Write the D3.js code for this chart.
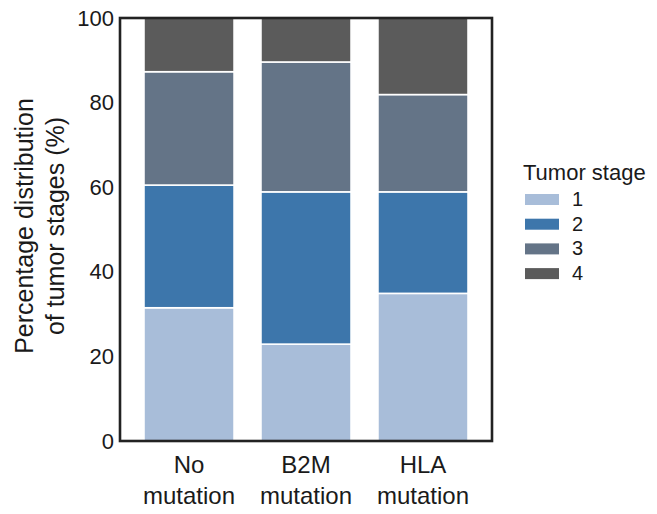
<!DOCTYPE html>
<html>
<head>
<meta charset="utf-8">
<script src="https://cdn.jsdelivr.net/npm/d3@7"></script>
<style>
  html, body { margin: 0; padding: 0; background: #fff; }
  svg { display: block; font-family: "Liberation Sans", Arial, Helvetica, sans-serif; }
</style>
</head>
<body>
<svg id="chart" width="657" height="514"></svg>
<script>
// Tumor stage distribution per mutation group (percent, stacked to 100)
const categories = ["No mutation", "B2M mutation", "HLA mutation"];
const stages = ["1", "2", "3", "4"];
const stage1 = [31.5, 22.9, 34.9];
const stage2 = [29.0, 36.0, 24.0];
const stage3 = [26.8, 30.7, 23.0];
const stage4 = [12.7, 10.4, 18.1];
const yTicks = [0, 20, 40, 60, 80, 100];
const stageColors = ["#a8bdd9", "#3d76ab", "#647487", "#5b5b5b"];

const rows = categories.map((c, i) => ({
  category: c,
  "1": stage1[i], "2": stage2[i], "3": stage3[i], "4": stage4[i]
}));

const svg = d3.select("#chart");
const plot = { left: 120, right: 492, top: 18, bottom: 441 };

const x = d3.scaleBand()
  .domain(categories)
  .range([plot.left, plot.right])
  .paddingInner(0.23)
  .paddingOuter(0.205);

const y = d3.scaleLinear().domain([0, 100]).range([plot.bottom, plot.top]);
const color = d3.scaleOrdinal().domain(stages).range(stageColors);

const series = d3.stack().keys(stages)(rows);

// stacked bars
svg.append("g")
  .selectAll("g")
  .data(series)
  .join("g")
  .attr("fill", d => color(d.key))
  .selectAll("rect")
  .data(d => d)
  .join("rect")
  .attr("x", d => x(d.data.category))
  .attr("width", x.bandwidth())
  .attr("y", d => y(d[1]))
  .attr("height", d => y(d[0]) - y(d[1]))
  .attr("stroke", "#fff")
  .attr("stroke-width", 1.6);

// y axis labels (no tick marks)
const yAxis = d3.axisLeft(y).tickValues(yTicks).tickSize(0).tickPadding(6);
const gy = svg.append("g")
  .attr("transform", `translate(${plot.left},0)`)
  .call(yAxis);
gy.select(".domain").remove();
gy.selectAll("text")
  .attr("font-size", 22)
  .attr("fill", "#1a1a1a")
  .attr("font-family", "'Liberation Sans', Arial, sans-serif");

// frame around the plot
svg.append("rect")
  .attr("x", plot.left)
  .attr("y", plot.top)
  .attr("width", plot.right - plot.left)
  .attr("height", plot.bottom - plot.top)
  .attr("fill", "none")
  .attr("stroke", "#222")
  .attr("stroke-width", 2.6);

// x category labels, two lines each
const xLab = svg.append("g")
  .selectAll("text")
  .data(categories)
  .join("text")
  .attr("text-anchor", "middle")
  .attr("font-size", 24)
  .attr("fill", "#1a1a1a")
  .attr("transform", d => `translate(${x(d) + x.bandwidth() / 2},0)`);
xLab.each(function (d) {
  const parts = d.split(" ");
  const t = d3.select(this);
  t.append("tspan").attr("x", 0).attr("y", 473).text(parts[0]);
  t.append("tspan").attr("x", 0).attr("y", 504).text(parts.slice(1).join(" "));
});

// y axis title
const yTitle = svg.append("text")
  .attr("transform", "translate(0,226) rotate(-90)")
  .attr("text-anchor", "middle")
  .attr("font-size", 25)
  .attr("fill", "#1a1a1a");
yTitle.append("tspan").attr("x", 0).attr("y", 33).text("Percentage distribution");
yTitle.append("tspan").attr("x", 0).attr("y", 64).text("of tumor stages (%)");

// legend
const legend = svg.append("g").attr("transform", "translate(523,0)");
legend.append("text")
  .attr("x", 0)
  .attr("y", 180)
  .attr("font-size", 22)
  .attr("fill", "#1a1a1a")
  .text("Tumor stage");
const item = legend.selectAll("g.item")
  .data(stages)
  .join("g")
  .attr("class", "item")
  .attr("transform", (d, i) => `translate(0,${194 + i * 24.7})`);
item.append("rect")
  .attr("x", 2)
  .attr("y", 0)
  .attr("width", 34)
  .attr("height", 11)
  .attr("fill", d => color(d));
item.append("text")
  .attr("x", 49)
  .attr("y", 12)
  .attr("font-size", 20)
  .attr("fill", "#1a1a1a")
  .text(d => d);
</script>
</body>
</html>
